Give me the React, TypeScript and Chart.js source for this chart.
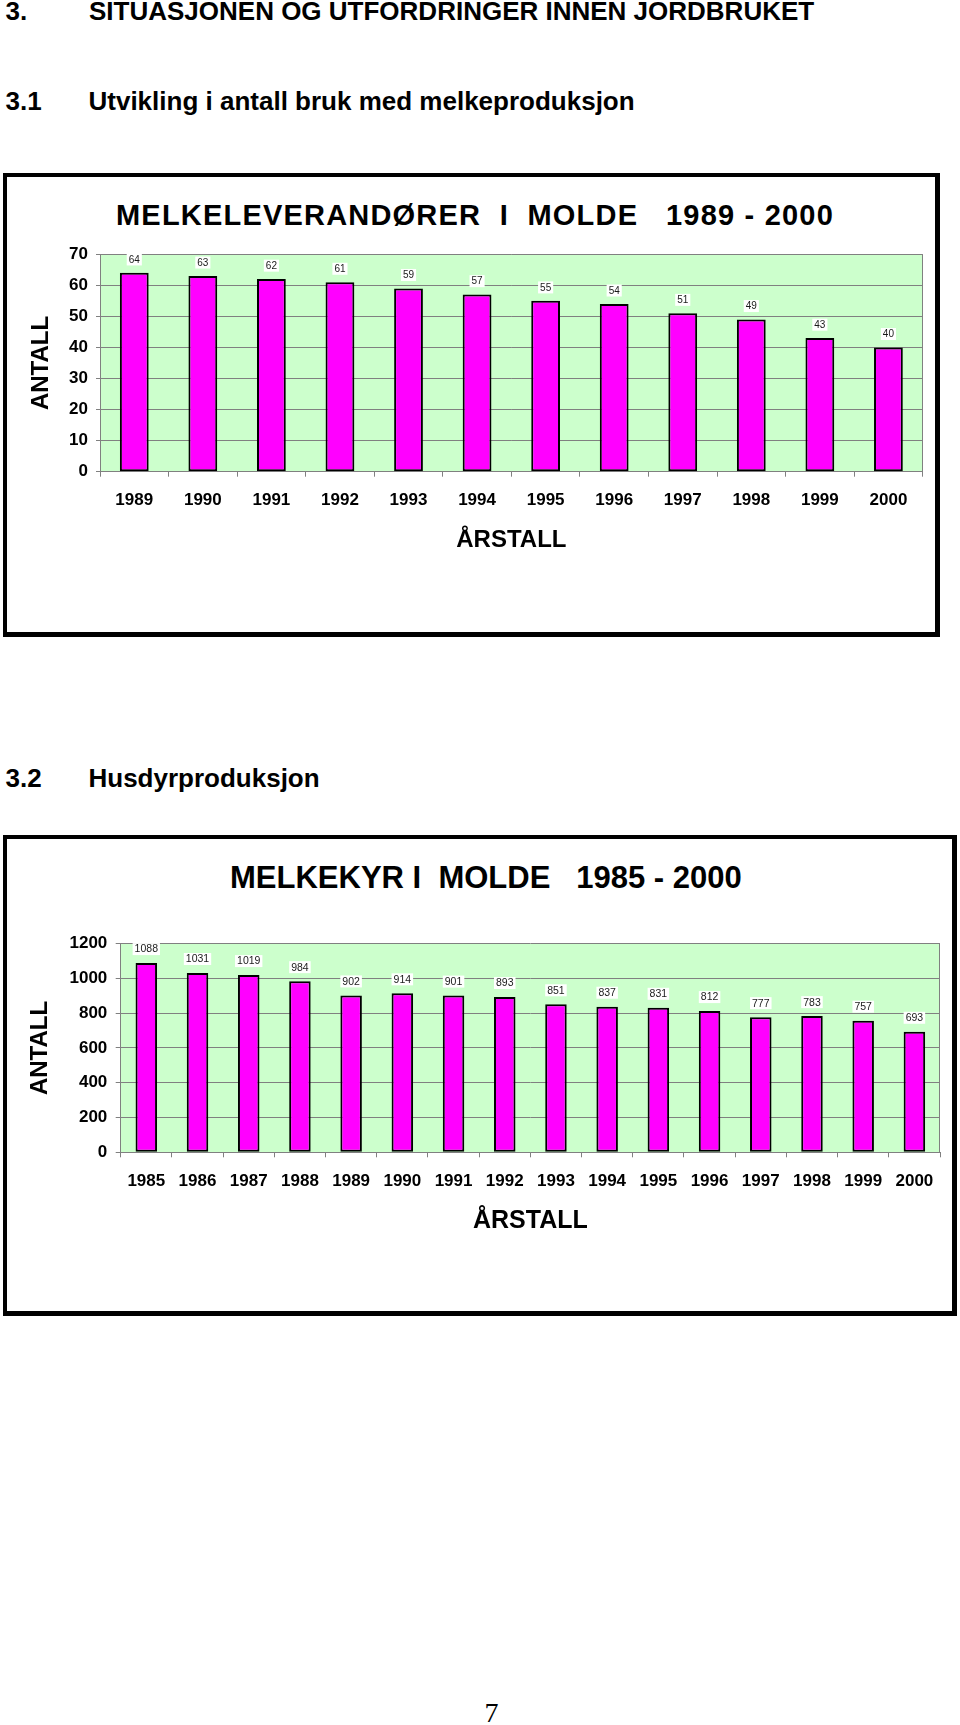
import React, { useEffect, useRef } from 'react';
import { Chart, registerables } from 'chart.js';

Chart.register(...registerables);

// ---------- data ----------
const years1 = ['1989', '1990', '1991', '1992', '1993', '1994', '1995', '1996', '1997', '1998', '1999', '2000'];
const suppliers = [64, 63, 62, 61, 59, 57, 55, 54, 51, 49, 43, 40];

const years2 = ['1985', '1986', '1987', '1988', '1989', '1990', '1991', '1992', '1993', '1994', '1995', '1996', '1997', '1998', '1999', '2000'];
const cows = [1088, 1031, 1019, 984, 902, 914, 901, 893, 851, 837, 831, 812, 777, 783, 757, 693];

const heading1Num = '3.';
const heading1Text = 'SITUASJONEN OG UTFORDRINGER INNEN JORDBRUKET';
const heading2Num = '3.1';
const heading2Text = 'Utvikling i antall bruk med melkeproduksjon';
const heading3Num = '3.2';
const heading3Text = 'Husdyrproduksjon';
const chartTitle1 = 'MELKELEVERANDØRER  I  MOLDE   1989 - 2000';
const chartTitle2 = 'MELKEKYR I  MOLDE   1985 - 2000';
const yAxisTitle = 'ANTALL';
const xAxisTitle = 'ÅRSTALL';
const pageNumber = '7';

const SANS = "'Liberation Sans', Arial, Helvetica, sans-serif";
const SERIF = "'Liberation Serif', 'Times New Roman', serif";
const BAR_FILL = '#FF00FF';
const PLOT_BG = '#CCFFCC';
const GRID = '#808080';

// ---------- plugins ----------
const plotFramePlugin = {
  id: 'plotFrame',
  beforeDraw(chart: any) {
    const { ctx, chartArea: a } = chart;
    ctx.save();
    ctx.fillStyle = PLOT_BG;
    ctx.fillRect(a.left, a.top, a.right - a.left, a.bottom - a.top);
    ctx.restore();
  },
  beforeDatasetsDraw(chart: any) {
    const { ctx, chartArea: a } = chart;
    ctx.save();
    ctx.strokeStyle = GRID;
    ctx.lineWidth = 1;
    const x = Math.round(a.right) - 0.5;
    ctx.beginPath();
    ctx.moveTo(x, a.top);
    ctx.lineTo(x, a.bottom);
    ctx.stroke();
    ctx.restore();
  },
};

const valueLabelPlugin = {
  id: 'valueLabels',
  afterDatasetsDraw(chart: any, _args: any, opts: any) {
    const { ctx } = chart;
    const meta = chart.getDatasetMeta(0);
    const data = chart.data.datasets[0].data;
    const size = opts.size || 10;
    const offset = opts.offset || 14;
    ctx.save();
    ctx.font = `${size}px ${SANS}`;
    ctx.textAlign = 'center';
    ctx.textBaseline = 'middle';
    meta.data.forEach((bar: any, i: number) => {
      const text = String(data[i]);
      const w = ctx.measureText(text).width;
      const h = Math.round(size * 1.15);
      const cy = bar.y - offset;
      ctx.fillStyle = '#FFFFFF';
      ctx.fillRect(bar.x - w / 2 - 2, cy - h / 2, w + 4, h);
      ctx.fillStyle = '#1a1a1a';
      ctx.fillText(text, bar.x, cy + 0.5);
    });
    ctx.restore();
  },
};

type Geo = {
  canvasTop: number;
  canvasHeight: number;
  areaLeft: number;
  areaRight: number;
  areaTop: number;
  areaBottom: number;
  yMax: number;
  yStep: number;
  tickFont: number;
  xTickLen: number;
  yTickLen: number;
  xTickPad: number;
  yTickPad: number;
  yTitleFont: number;
  yTitlePad: number;
  xTitleFont: number;
  xTitlePad: number;
  labelFont: number;
  labelOffset: number;
};

function BarChart({ labels, values, geo }: { labels: string[]; values: number[]; geo: Geo }) {
  const ref = useRef<HTMLCanvasElement | null>(null);

  useEffect(() => {
    if (!ref.current) return;
    const g = geo;
    const canvasBottom = g.canvasTop + g.canvasHeight;
    const chart = new Chart(ref.current, {
      type: 'bar',
      data: {
        labels,
        datasets: [
          {
            data: values,
            backgroundColor: BAR_FILL,
            borderColor: '#000000',
            borderWidth: 2,
            borderSkipped: false,
            barPercentage: 0.42,
            categoryPercentage: 1.0,
          },
        ],
      },
      options: {
        animation: false,
        responsive: false,
        devicePixelRatio: 1,
        events: [],
        layout: {
          padding: {
            left: 0,
            right: 960 - g.areaRight,
            top: g.areaTop - g.canvasTop,
            bottom: 0,
          },
        },
        plugins: {
          legend: { display: false },
          tooltip: { enabled: false },
          title: { display: false },
          valueLabels: { size: g.labelFont, offset: g.labelOffset },
        } as any,
        scales: {
          x: {
            afterFit: (s: any) => {
              s.height = canvasBottom - g.areaBottom;
            },
            grid: {
              offset: true,
              drawOnChartArea: false,
              drawTicks: true,
              tickLength: g.xTickLen,
              color: GRID,
              lineWidth: 1,
            },
            border: { color: GRID, width: 1 },
            ticks: {
              color: '#000000',
              padding: g.xTickPad,
              maxRotation: 0,
              autoSkip: false,
              font: { family: SANS, size: g.tickFont, weight: 'bold' },
            },
            title: {
              display: true,
              text: xAxisTitle,
              color: '#000000',
              font: { family: SANS, size: g.xTitleFont, weight: 'bold', lineHeight: 1.2 },
              padding: { top: 0, bottom: g.xTitlePad },
            },
          },
          y: {
            afterFit: (s: any) => {
              s.width = g.areaLeft;
            },
            min: 0,
            max: g.yMax,
            grid: {
              drawTicks: true,
              tickLength: g.yTickLen,
              color: GRID,
              lineWidth: 1,
            },
            border: { color: GRID, width: 1 },
            ticks: {
              stepSize: g.yStep,
              color: '#000000',
              padding: g.yTickPad,
              font: { family: SANS, size: g.tickFont, weight: 'bold' },
              callback: (v: any) => String(v),
            },
            title: {
              display: true,
              text: yAxisTitle,
              color: '#000000',
              font: { family: SANS, size: g.yTitleFont, weight: 'bold', lineHeight: 1.2 },
              padding: { top: g.yTitlePad, bottom: 0 },
            },
          },
        },
      } as any,
      plugins: [plotFramePlugin, valueLabelPlugin],
    });
    return () => chart.destroy();
  }, [labels, values, geo]);

  return (
    <canvas
      ref={ref}
      width={960}
      height={geo.canvasHeight}
      style={{ position: 'absolute', left: 0, top: geo.canvasTop, width: 960, height: geo.canvasHeight }}
    />
  );
}

const geo1: Geo = {
  canvasTop: 236,
  canvasHeight: 360,
  areaLeft: 100,
  areaRight: 922.7,
  areaTop: 247.7,
  areaBottom: 471.7,
  yMax: 70,
  yStep: 10,
  tickFont: 17,
  xTickLen: 5,
  yTickLen: 4,
  xTickPad: 13,
  yTickPad: 8,
  yTitleFont: 24,
  yTitlePad: 26.6,
  xTitleFont: 24,
  xTitlePad: 41.3,
  labelFont: 10,
  labelOffset: 13.4,
};

const geo2: Geo = {
  canvasTop: 925,
  canvasHeight: 365,
  areaLeft: 120.7,
  areaRight: 940,
  areaTop: 940.7,
  areaBottom: 1152.3,
  yMax: 1200,
  yStep: 200,
  tickFont: 17,
  xTickLen: 5,
  yTickLen: 5,
  xTickPad: 14,
  yTickPad: 8.4,
  yTitleFont: 24,
  yTitlePad: 25.6,
  xTitleFont: 25,
  xTitlePad: 54,
  labelFont: 10.5,
  labelOffset: 14,
};

const abs = (left: number, top: number, extra: React.CSSProperties = {}): React.CSSProperties => ({
  position: 'absolute',
  left,
  top,
  whiteSpace: 'pre',
  margin: 0,
  ...extra,
});

const headingStyle: React.CSSProperties = {
  fontFamily: SANS,
  fontWeight: 'bold',
  fontSize: 26,
  lineHeight: '30px',
  color: '#000',
};

export default function App() {
  return (
    <div
      style={{
        position: 'absolute',
        left: 0,
        top: 0,
        width: 960,
        height: 1725,
        overflow: 'hidden',
        background: '#fff',
      }}
    >
      <div style={abs(5.5, -4, headingStyle)}>{heading1Num}</div>
      <div style={abs(89, -4, headingStyle)}>{heading1Text}</div>
      <div style={abs(5.5, 86, headingStyle)}>{heading2Num}</div>
      <div style={abs(88.5, 86, headingStyle)}>{heading2Text}</div>

      {/* Chart 1 frame */}
      <div
        style={{
          position: 'absolute',
          left: 3,
          top: 173,
          width: 937,
          height: 464,
          boxSizing: 'border-box',
          border: '4px solid #000',
          borderRightWidth: 5,
          borderBottomWidth: 5,
          background: '#fff',
        }}
      />
      <div
        style={abs(116, 198, {
          fontFamily: SANS,
          fontWeight: 'bold',
          fontSize: 29,
          lineHeight: '34px',
          letterSpacing: '1.2px',
          color: '#000',
        })}
      >
        {chartTitle1}
      </div>
      <BarChart labels={years1} values={suppliers} geo={geo1} />

      <div style={abs(5.5, 762.5, headingStyle)}>{heading3Num}</div>
      <div style={abs(88.5, 762.5, headingStyle)}>{heading3Text}</div>

      {/* Chart 2 frame */}
      <div
        style={{
          position: 'absolute',
          left: 3,
          top: 835,
          width: 954,
          height: 481,
          boxSizing: 'border-box',
          border: '4px solid #000',
          borderRightWidth: 5,
          borderBottomWidth: 5,
          background: '#fff',
        }}
      />
      <div
        style={abs(230, 859.5, {
          fontFamily: SANS,
          fontWeight: 'bold',
          fontSize: 31,
          lineHeight: '36px',
          color: '#000',
        })}
      >
        {chartTitle2}
      </div>
      <BarChart labels={years2} values={cows} geo={geo2} />

      <div
        style={abs(484.5, 1696.5, {
          fontFamily: SERIF,
          fontSize: 28,
          lineHeight: '32px',
          color: '#000',
        })}
      >
        {pageNumber}
      </div>
    </div>
  );
}
